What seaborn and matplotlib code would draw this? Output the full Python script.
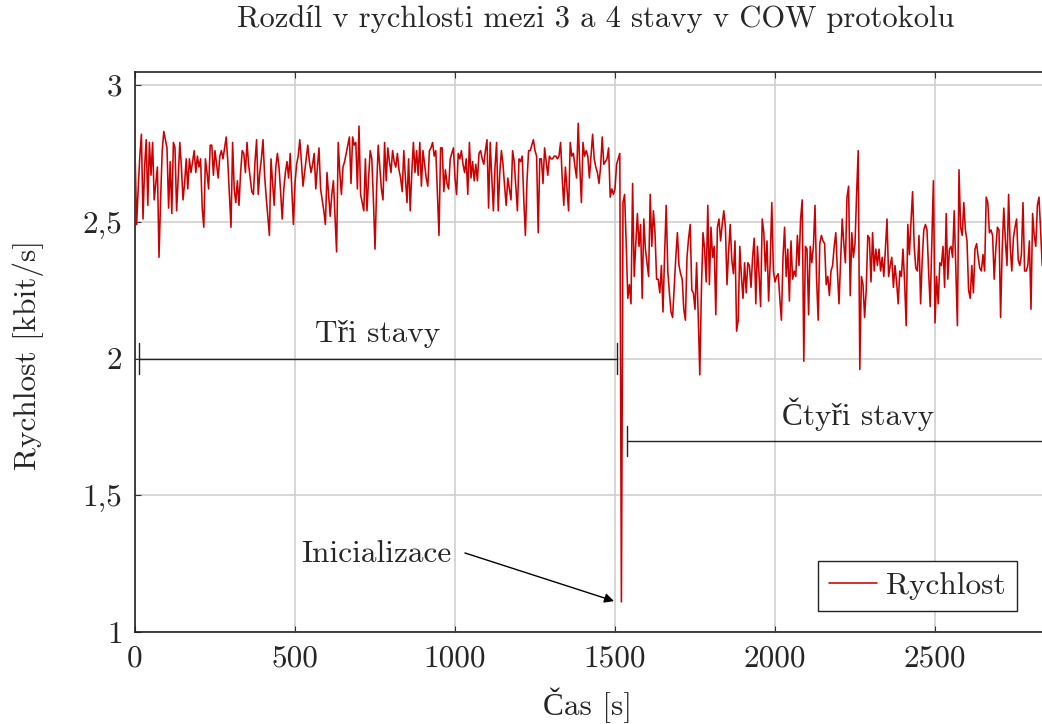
import numpy as np
import pandas as pd
import matplotlib
matplotlib.use("Agg")
import matplotlib.pyplot as plt
import seaborn as sns

# Transmission speed [kbit/s], one sample every 5 s
STEP = 5

# three-state phase (t = 0 ... 1515 s)
speed_three = [
    2.76, 2.49, 2.62, 2.74, 2.82, 2.51, 2.70, 2.80, 2.56, 2.79, 2.67, 2.79, 2.58, 2.64, 2.70, 2.37, 2.58, 2.76, 2.83, 2.80,
    2.77, 2.55, 2.72, 2.53, 2.79, 2.77, 2.54, 2.66, 2.79, 2.70, 2.58, 2.64, 2.73, 2.62, 2.73, 2.68, 2.72, 2.76, 2.68, 2.74,
    2.70, 2.73, 2.55, 2.48, 2.73, 2.68, 2.62, 2.78, 2.78, 2.67, 2.76, 2.71, 2.66, 2.74, 2.76, 2.73, 2.77, 2.81, 2.72, 2.60,
    2.48, 2.79, 2.62, 2.57, 2.65, 2.56, 2.68, 2.76, 2.75, 2.68, 2.79, 2.71, 2.66, 2.61, 2.60, 2.72, 2.80, 2.60, 2.68, 2.73,
    2.80, 2.67, 2.59, 2.52, 2.45, 2.73, 2.64, 2.56, 2.70, 2.75, 2.70, 2.61, 2.51, 2.62, 2.68, 2.72, 2.66, 2.75, 2.62, 2.49,
    2.64, 2.71, 2.74, 2.80, 2.72, 2.63, 2.68, 2.73, 2.78, 2.72, 2.68, 2.71, 2.75, 2.62, 2.70, 2.77, 2.62, 2.58, 2.54, 2.49,
    2.68, 2.60, 2.52, 2.60, 2.65, 2.52, 2.39, 2.79, 2.68, 2.60, 2.70, 2.72, 2.75, 2.78, 2.81, 2.64, 2.81, 2.78, 2.79, 2.62,
    2.85, 2.60, 2.57, 2.54, 2.73, 2.54, 2.66, 2.76, 2.73, 2.58, 2.40, 2.62, 2.78, 2.70, 2.62, 2.58, 2.79, 2.65, 2.77, 2.72,
    2.68, 2.76, 2.72, 2.70, 2.75, 2.69, 2.66, 2.61, 2.76, 2.66, 2.57, 2.73, 2.54, 2.68, 2.79, 2.68, 2.76, 2.67, 2.79, 2.63,
    2.76, 2.71, 2.66, 2.63, 2.76, 2.77, 2.79, 2.74, 2.76, 2.60, 2.45, 2.77, 2.77, 2.61, 2.69, 2.64, 2.62, 2.73, 2.75, 2.77,
    2.66, 2.60, 2.75, 2.73, 2.76, 2.71, 2.68, 2.73, 2.60, 2.79, 2.66, 2.72, 2.65, 2.71, 2.65, 2.75, 2.76, 2.73, 2.71, 2.76,
    2.80, 2.55, 2.79, 2.66, 2.54, 2.70, 2.79, 2.54, 2.68, 2.76, 2.71, 2.63, 2.56, 2.66, 2.62, 2.58, 2.76, 2.72, 2.63, 2.54,
    2.73, 2.72, 2.74, 2.58, 2.45, 2.65, 2.76, 2.76, 2.78, 2.80, 2.76, 2.74, 2.46, 2.73, 2.73, 2.64, 2.77, 2.72, 2.67, 2.74,
    2.73, 2.73, 2.74, 2.74, 2.73, 2.74, 2.79, 2.66, 2.56, 2.70, 2.62, 2.54, 2.79, 2.74, 2.75, 2.70, 2.66, 2.86, 2.70, 2.57,
    2.79, 2.74, 2.76, 2.74, 2.66, 2.74, 2.82, 2.73, 2.70, 2.68, 2.64, 2.70, 2.81, 2.71, 2.72, 2.73, 2.77, 2.59, 2.62, 2.60,
    2.62, 2.71, 2.73, 2.75,
]

# re-initialisation of the link (t = 1520 s)
speed_init = [1.11]

# four-state phase (t = 1525 ... 2835 s)
speed_four = [
    2.57, 2.60, 2.42, 2.22, 2.27, 2.20, 2.64, 2.30, 2.42, 2.53, 2.41, 2.49, 2.22, 2.51, 2.40, 2.35, 2.30, 2.60, 2.41, 2.54,
    2.46, 2.29, 2.29, 2.24, 2.34, 2.17, 2.38, 2.56, 2.32, 2.24, 2.17, 2.15, 2.26, 2.37, 2.46, 2.34, 2.31, 2.29, 2.18, 2.14,
    2.37, 2.44, 2.49, 2.25, 2.24, 2.18, 2.35, 2.16, 1.94, 2.25, 2.46, 2.40, 2.28, 2.56, 2.27, 2.48, 2.37, 2.41, 2.16, 2.48,
    2.51, 2.43, 2.49, 2.54, 2.48, 2.27, 2.39, 2.49, 2.36, 2.31, 2.43, 2.10, 2.14, 2.41, 2.30, 2.22, 2.35, 2.24, 2.35, 2.34,
    2.26, 2.37, 2.44, 2.20, 2.41, 2.31, 2.19, 2.51, 2.46, 2.32, 2.43, 2.21, 2.35, 2.57, 2.32, 2.28, 2.30, 2.31, 2.22, 2.14,
    2.37, 2.48, 2.30, 2.40, 2.21, 2.43, 2.29, 2.32, 2.30, 2.45, 2.34, 2.51, 2.58, 1.99, 2.41, 2.40, 2.16, 2.41, 2.35, 2.41,
    2.56, 2.29, 2.14, 2.42, 2.45, 2.43, 2.42, 2.27, 2.30, 2.23, 2.32, 2.34, 2.41, 2.46, 2.32, 2.20, 2.36, 2.51, 2.42, 2.35,
    2.59, 2.63, 2.23, 2.46, 2.37, 2.42, 2.60, 2.76, 1.96, 2.30, 2.27, 2.15, 2.25, 2.45, 2.44, 2.28, 2.46, 2.32, 2.40, 2.34,
    2.40, 2.32, 2.37, 2.30, 2.40, 2.51, 2.30, 2.34, 2.37, 2.26, 2.34, 2.28, 2.20, 2.32, 2.30, 2.40, 2.28, 2.12, 2.49, 2.38,
    2.50, 2.61, 2.41, 2.33, 2.32, 2.45, 2.20, 2.36, 2.47, 2.49, 2.47, 2.32, 2.19, 2.42, 2.65, 2.13, 2.30, 2.20, 2.35, 2.34,
    2.41, 2.26, 2.53, 2.29, 2.40, 2.41, 2.37, 2.54, 2.33, 2.12, 2.69, 2.48, 2.45, 2.57, 2.47, 2.43, 2.25, 2.22, 2.34, 2.24,
    2.40, 2.42, 2.37, 2.33, 2.32, 2.38, 2.32, 2.59, 2.57, 2.46, 2.47, 2.45, 2.29, 2.40, 2.48, 2.47, 2.15, 2.40, 2.55, 2.43,
    2.34, 2.60, 2.41, 2.32, 2.44, 2.48, 2.51, 2.36, 2.34, 2.38, 2.57, 2.32, 2.32, 2.34, 2.43, 2.18, 2.53, 2.45, 2.41, 2.56,
    2.59, 2.47, 2.34,
]

x_ticks = [0, 500, 1000, 1500, 2000, 2500]
y_ticks = [1.0, 1.5, 2.0, 2.5, 3.0]
y_tick_labels = ["1", "1,5", "2", "2,5", "3"]

title = "Rozdíl v rychlosti mezi 3 a 4 stavy v COW protokolu"
x_label = "Čas [s]"
y_label = "Rychlost [kbit/s]"
series_label = "Rychlost"

# phase brackets: (start, end, level, label, label_x, label_baseline)
phase_three = (13.5, 1506, 2.0, "Tři stavy", 759, 2.06)
phase_four = (1537.5, 3000, 1.7, "Čtyři stavy", 2259, 1.757)

speed = speed_three + speed_init + speed_four
df = pd.DataFrame({"cas": np.arange(len(speed)) * STEP, "rychlost": speed})

sns.set_style("ticks")
plt.rcParams["font.family"] = ["cmr10", "Liberation Serif"]
plt.rcParams["axes.formatter.use_mathtext"] = True
FS = 22.5

fig = plt.figure(figsize=(10.42, 7.24), dpi=100)
ax = fig.add_axes([135 / 1042, 92 / 724, 915 / 1042, 560 / 724])

ax.grid(True, color="#cccccc", linewidth=1.1, zorder=0)
ax.set_axisbelow(True)

sns.lineplot(data=df, x="cas", y="rychlost", ax=ax, color="#cc0000",
             linewidth=1.15, label=series_label, zorder=3)

ax.set_xlim(0, 915 / 0.32)
ax.set_ylim(1.0, 3.0 + 13 / 273.5)
ax.set_xticks(x_ticks)
ax.set_xticklabels([str(v) for v in x_ticks])
ax.set_yticks(y_ticks)
ax.set_yticklabels(y_tick_labels)
ax.tick_params(axis="both", direction="in", length=4, width=0.8, color="#333333",
               labelsize=FS, pad=9, top=True, right=True)

for side in ("left", "bottom", "top", "right"):
    ax.spines[side].set_linewidth(1.2)
    ax.spines[side].set_color("#222222")

ax.set_title(title, fontsize=22, x=0.503, y=1.079, va="center")
ax.set_xlabel(x_label, fontsize=FS)
ax.xaxis.set_label_coords(0.495, -0.130)
ax.xaxis.label.set_verticalalignment("center")
ax.set_ylabel(y_label, fontsize=FS)
ax.yaxis.set_label_coords(-0.117, 0.495)
ax.yaxis.label.set_verticalalignment("center")

# phase brackets with end marks
for start, end, level, text, tx, ty in (phase_three, phase_four):
    ax.plot([start, end], [level, level], color="#222222", lw=1.0, zorder=4,
            solid_capstyle="butt")
    for xe in (start, end):
        ax.plot([xe, xe], [level - 0.055, level + 0.055], color="#222222", lw=1.0, zorder=4)
    ax.text(tx, ty, text, fontsize=FS, ha="center", va="baseline", zorder=5)

# link initialisation marker
ax.text(989, 1.256, "Inicializace", fontsize=FS, ha="right", va="baseline", zorder=5)
ax.annotate("", xy=(1497, 1.113), xytext=(1031, 1.289),
            arrowprops=dict(arrowstyle="-|>", color="black", lw=1.0,
                            mutation_scale=14, shrinkA=0, shrinkB=0),
            zorder=5)

leg = ax.legend(loc="lower right", bbox_to_anchor=(1017 / 1042, 1 - 611 / 724),
                bbox_transform=fig.transFigure, fontsize=FS, frameon=True,
                fancybox=False, framealpha=1, edgecolor="#222222",
                handlelength=1.55, handletextpad=0.3, borderpad=0.35,
                borderaxespad=0)
leg.get_frame().set_linewidth(1.0)

fig.savefig("out.png", dpi=100)
